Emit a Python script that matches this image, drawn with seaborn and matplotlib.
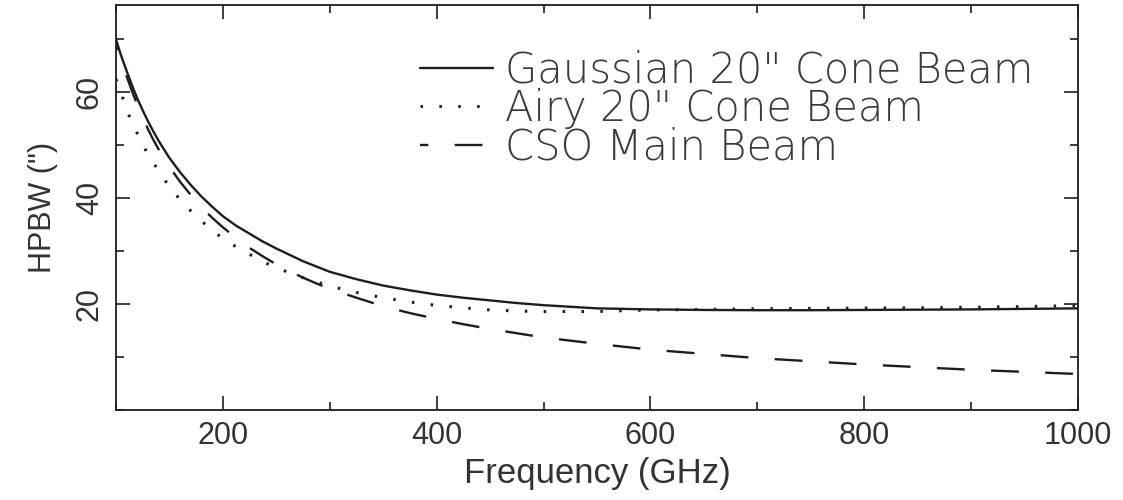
import matplotlib
matplotlib.use("Agg")
import matplotlib.pyplot as plt
import seaborn as sns
import pandas as pd
from matplotlib.ticker import MultipleLocator

# Frequency grid (GHz) and half-power beam widths (arcsec) for each beam model
freq_ghz = [100, 105, 110, 115, 120, 125, 130, 135, 140, 145, 150, 160, 170, 180,
            190, 200, 212.5, 225, 237.5, 250, 262.5, 275, 287.5, 300, 325, 350,
            375, 400, 425, 450, 475, 500, 550, 600, 650, 700, 750, 800, 850, 900,
            950, 1000]

gaussian_cone = [70.0, 66.8, 64.0, 61.3, 58.8, 56.6, 54.5, 52.6, 50.8, 49.2, 47.6,
                 44.9, 42.5, 40.3, 38.4, 36.6, 34.8, 33.3, 31.8, 30.5, 29.3, 28.1,
                 27.1, 26.1, 24.7, 23.5, 22.6, 21.8, 21.2, 20.7, 20.2, 19.8, 19.2,
                 19.0, 18.9, 18.85, 18.85, 18.9, 18.95, 19.0, 19.1, 19.2]

airy_cone = [62.5, 59.7, 56.8, 54.2, 52.2, 50.1, 48.3, 46.7, 45.1, 43.6, 42.2,
             39.7, 37.6, 35.7, 33.9, 32.4, 30.8, 29.4, 28.0, 26.9, 25.9, 25.0,
             24.2, 23.4, 22.2, 21.2, 20.4, 19.75, 19.3, 18.9, 18.7, 18.6, 18.6,
             18.9, 19.0, 19.1, 19.2, 19.25, 19.3, 19.4, 19.55, 19.7]

cso_main = [69.5, 66.0, 63.0, 60.2, 57.6, 55.3, 53.0, 51.0, 49.2, 47.5, 45.9,
            43.1, 40.6, 38.3, 36.3, 34.5, 32.5, 30.6, 29.0, 27.5, 26.2, 25.0,
            23.9, 22.9, 21.2, 19.6, 18.3, 17.2, 16.2, 15.3, 14.5, 13.7, 12.5,
            11.4, 10.6, 9.8, 9.2, 8.6, 8.1, 7.6, 7.2, 6.8]

series_labels = ['Gaussian 20" Cone Beam', 'Airy 20" Cone Beam', 'CSO Main Beam']

x_ticks = [200, 400, 600, 800, 1000]
y_ticks = [20, 40, 60]

sns.set_theme(style="ticks")
plt.rcParams["font.family"] = ["Liberation Sans", "DejaVu Sans"]
plt.rcParams["lines.scale_dashes"] = False

ink = "#1e1e1e"

fig = plt.figure(figsize=(11.23, 5.0), dpi=100)
ax = fig.add_axes([0.1033, 0.18, 0.8567, 0.81])

df = pd.DataFrame({"freq": freq_ghz, "gauss": gaussian_cone,
                   "airy": airy_cone, "cso": cso_main})

sns.lineplot(data=df, x="freq", y="gauss", ax=ax, color=ink, lw=1.7,
             linestyle="-", label=series_labels[0])
sns.lineplot(data=df, x="freq", y="airy", ax=ax, color=ink, lw=2.2,
             linestyle=(0, (1.8, 11.8)), label=series_labels[1])
sns.lineplot(data=df, x="freq", y="cso", ax=ax, color=ink, lw=1.7,
             linestyle=(14, (20, 19)), label=series_labels[2])

ax.set_xlim(100, 1000)
ax.set_ylim(0, 76.5)
ax.xaxis.set_major_locator(MultipleLocator(200))
ax.xaxis.set_minor_locator(MultipleLocator(100))
ax.yaxis.set_major_locator(MultipleLocator(20))
ax.yaxis.set_minor_locator(MultipleLocator(10))
ax.set_xticks(x_ticks)
ax.set_yticks(y_ticks)

for side in ax.spines.values():
    side.set_color(ink)
    side.set_linewidth(1.3)

ax.tick_params(which="both", direction="in", top=True, right=True,
               color=ink, width=1.2, labelcolor="#333333")
ax.tick_params(which="major", length=10, labelsize=22, pad=8)
ax.tick_params(which="minor", length=5.5)
for lab in ax.get_yticklabels():
    lab.set_rotation(90)
    lab.set_va("center")

ax.set_xlabel("Frequency (GHz)", fontsize=25, color="#333333", labelpad=4)
ax.set_ylabel('HPBW (")', fontsize=22, color="#333333", labelpad=12)

leg = ax.legend(loc="center left", bbox_to_anchor=(0.316, 0.745), frameon=False,
                borderaxespad=0, borderpad=0, handlelength=1.75,
                handletextpad=0.3, labelspacing=-0.06,
                prop={"family": "DejaVu Sans", "weight": "light", "size": 30})
for txt in leg.get_texts():
    txt.set_color("#3a3a3a")

fig.savefig("out.png", dpi=100, facecolor="white")
